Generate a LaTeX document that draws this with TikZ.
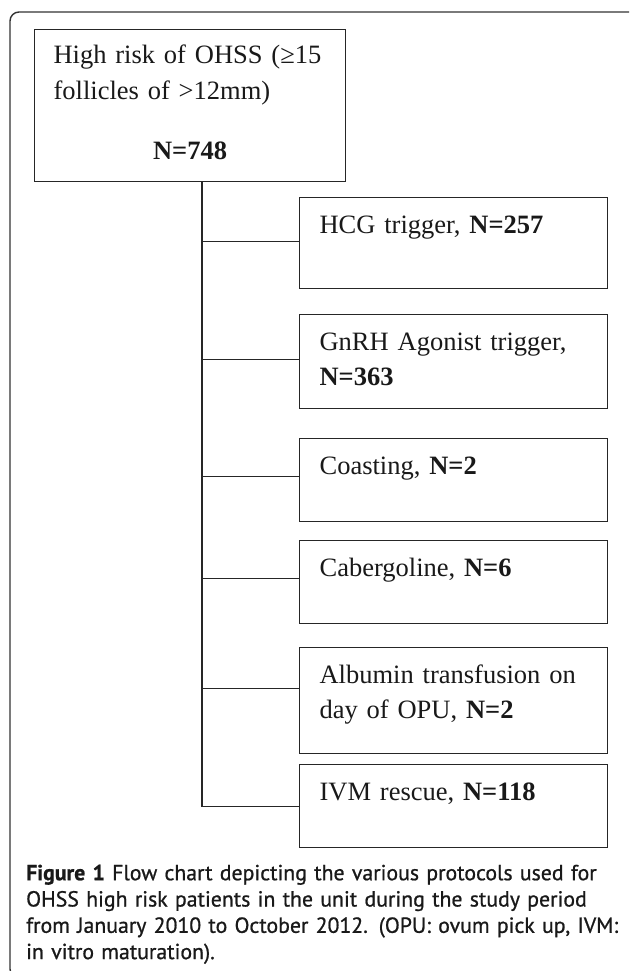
\documentclass[tikz,border=0pt]{standalone}
\usepackage{fontspec}
\setmainfont{Liberation Serif}
\newfontfamily\capfont[FakeBold=0.8]{PT Sans}

\tikzset{
  boxline/.style={line width=1.2pt, draw=black!85},
  stepbox/.style={boxline, anchor=north west, inner xsep=20pt, inner ysep=0pt,
    text width=268pt, align=left, text height=36pt, text=black!90,
    font=\fontsize{26.5}{35}\selectfont},
  link/.style={line width=1.2pt, black!85}
}

\begin{document}
\begin{tikzpicture}[x=1pt, y=-1pt]
\useasboundingbox (0,0) rectangle (629,971);
\clip (0,0) rectangle (629,971);
\fill[white] (0,0) rectangle (629,971);
% frame round figure and caption
\draw[line width=1.4pt, black!80, rounded corners=9pt] (10,12) rectangle (639,978);

\node[boxline, draw, anchor=north west, inner xsep=19pt, inner ysep=0pt, text width=273pt,
  align=left, text height=34pt, text depth=118pt, text=black!90,
  font=\fontsize{26.5}{36}\selectfont] (risk) at (34,29)
  {High risk of OHSS (≥15\\ follicles of >12mm)\\[24pt]
   \makebox[273pt]{\textbf{N=748}}};

\node[stepbox, text depth=55pt] (hcg) at (299,197) {HCG trigger, \textbf{N=257}};
\node[stepbox, text depth=58pt] (gnrh) at (299,314) {GnRH Agonist trigger,\\ \textbf{N=363}};
\node[stepbox, text depth=47pt] (coast) at (299,438) {Coasting, \textbf{N=2}};
\node[stepbox, text depth=47pt] (caber) at (299,540) {Cabergoline, \textbf{N=6}};
\node[stepbox, text depth=70pt] (album) at (299,647) {Albumin transfusion on\\ day of OPU, \textbf{N=2}};
\node[stepbox, text depth=47pt] (ivm) at (299,764) {IVM rescue, \textbf{N=118}};

% trunk and branches
\coordinate (trunk) at (202,181);
\draw[link] (trunk) -- (trunk |- ivm.west) -- (ivm.west);
\draw[link] (trunk |- hcg.west) ++(0,-2) -- ([yshift=2pt]hcg.west);
\draw[link] (trunk |- gnrh.west) ++(0,-2) -- ([yshift=2pt]gnrh.west);
\draw[link] (trunk |- coast.west) ++(0,-4) -- ([yshift=4pt]coast.west);
\draw[link] (trunk |- caber.west) ++(0,-4) -- ([yshift=4pt]caber.west);
\draw[link] (trunk |- album.west) ++(0,-12) -- ([yshift=12pt]album.west);

\node[anchor=north west, inner sep=0pt, text width=600pt, align=left, text height=15pt,
  text=black!90, font=\capfont\fontsize{21.8}{26.3}\selectfont] (caption) at (26,865)
  {\textbf{Figure 1} Flow chart depicting the various protocols used for\\
   OHSS high risk patients in the unit during the study period\\
   from January 2010 to October 2012. (OPU: ovum pick up, IVM:\\
   in vitro maturation).};
\end{tikzpicture}
\end{document}
